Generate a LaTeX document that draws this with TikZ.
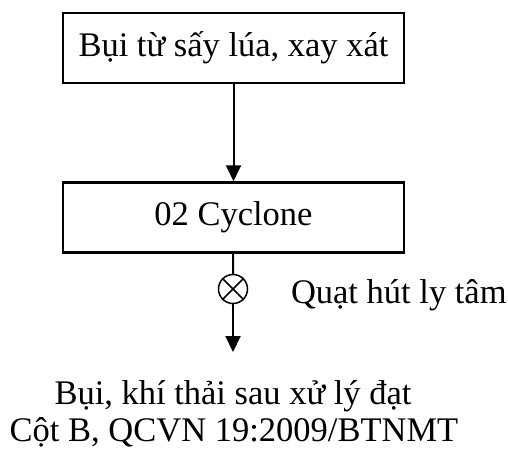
\documentclass[tikz,border=0pt]{standalone}
\usepackage{fontspec}
\setmainfont{Liberation Serif}
\usetikzlibrary{arrows.meta}
\begin{document}
\begin{tikzpicture}[x=1pt,y=-1pt,line width=2pt,font=\fontsize{34.5}{40}\selectfont]
	\tikzset{box/.style={draw,line width=2.5pt,minimum width=341pt,minimum height=70pt,inner sep=0pt},
		flow/.style={-{Triangle[length=16pt,width=15pt]}},
		fanmark/.style={draw,circle,minimum size=29pt,inner sep=0pt,line width=1.5pt},
		label/.style={inner sep=0pt}}
	\useasboundingbox (0,0) rectangle (508,448); %frame
	
	%boxes
	\node[box] (dust) at (233.5,48) {Bụi từ sấy lúa, xay xát}; %source box
	\node[box] (cyclone) at (233.5,217.5) {02 Cyclone}; %cyclone box
	
	%fan
	\node[fanmark] (fan) at (233,289) {}; %fan circle
	\draw[line width=1.5pt] (fan.45) -- (fan.225) (fan.135) -- (fan.315); %cross
	\node[label,anchor=base west] (fanlabel) at (290,303) {Quạt hút ly tâm}; %fan label
	
	%flow
	\coordinate (out) at (233,352); %outlet
	\draw[flow] (dust) -- (cyclone); %arrow 1
	\draw (cyclone) -- (fan); %line to fan
	\draw[flow] (fan) -- (out); %arrow 2
	
	%result
	\node[label,anchor=base] (result1) at (233,404) {Bụi, khí thải sau xử lý đạt}; %line 1
	\node[label,anchor=base] (result2) at (234,441) {Cột B, QCVN 19:2009/BTNMT}; %line 2
\end{tikzpicture}
\end{document}
